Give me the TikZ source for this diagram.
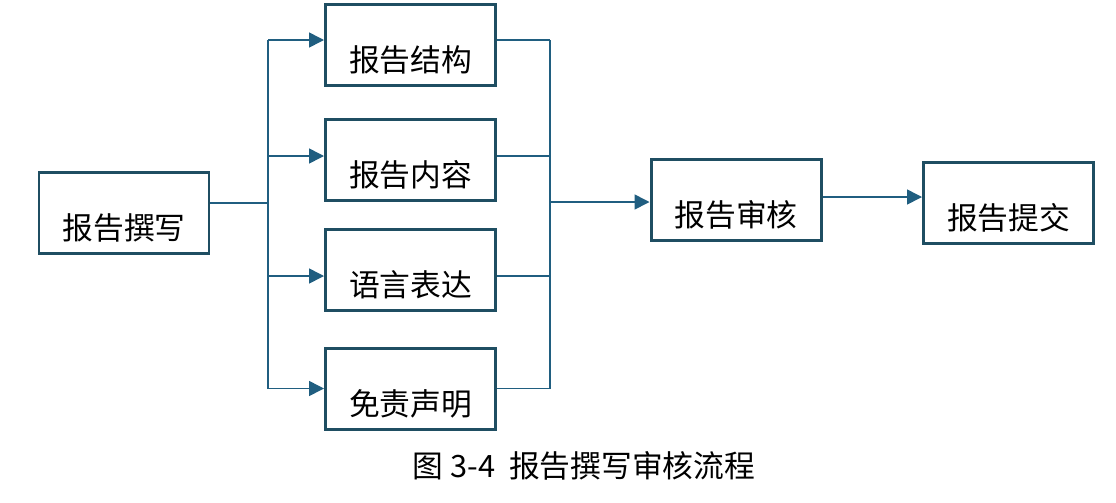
\documentclass[tikz,border=0pt]{standalone}
\usepackage{fontspec}
\setmainfont{Noto Sans CJK SC}
\usetikzlibrary{arrows.meta}

\definecolor{boxline}{RGB}{31,78,98}
\definecolor{flowline}{RGB}{32,94,128}

\begin{document}
\begin{tikzpicture}[
    stage/.style={draw=boxline, line width=1.7pt, minimum width=3.4cm, inner xsep=0pt, inner ysep=0pt,
        text height=1.34cm, text depth=0.28cm, font=\fontsize{17.5}{20}\selectfont},
    conn/.style={draw=flowline, line width=0.9pt},
    tip/.style={conn, -{Triangle[length=0.3cm, width=0.3cm]}}
]
    \useasboundingbox (0,0) rectangle (22.32,-10.04);

    %% Stages
    \node[stage] (zx) at (2.48,-4.25) {报告撰写};
    \node[stage] (jg) at (8.21,-0.90) {报告结构};
    \node[stage] (nr) at (8.21,-3.20) {报告内容};
    \node[stage] (yy) at (8.21,-5.40) {语言表达};
    \node[stage] (mz) at (8.21,-7.77) {免责声明};
    \node[stage] (sh) at (14.72,-4.00) {报告审核};
    \node[stage] (tj) at (20.17,-4.05) {报告提交};

    % Fork and join
    \coordinate (fork) at (5.36,-4.06);
    \coordinate (join) at (11.00,-4.04);
    \draw[conn] (zx.east |- fork) -- (fork);

    \foreach \n/\dy in {jg/0.10, nr/0.08, yy/-0.12, mz/0} {
        \coordinate (in\n) at ([yshift=\dy cm]\n.west);
        \coordinate (out\n) at ([yshift=\dy cm]\n.east);
        \draw[tip] (fork |- in\n) -- (in\n);
        \draw[conn] (out\n) -- (join |- out\n);
    }
    \draw[conn] (fork |- injg) -- (fork |- inmz);
    \draw[conn] (join |- outjg) -- (join |- outmz);

    % To review, then submit
    \draw[tip] (join) -- (join -| sh.west);
    \coordinate (outsh) at ([yshift=0.06cm]sh.east);
    \draw[tip] (outsh) -- (outsh -| tj.west);

    % Caption
    \node[font=\fontsize{17.5}{20}\selectfont] (cap) at (11.68,-9.32) {图 3-4\hspace{0.45em}报告撰写审核流程};

\end{tikzpicture}
\end{document}
